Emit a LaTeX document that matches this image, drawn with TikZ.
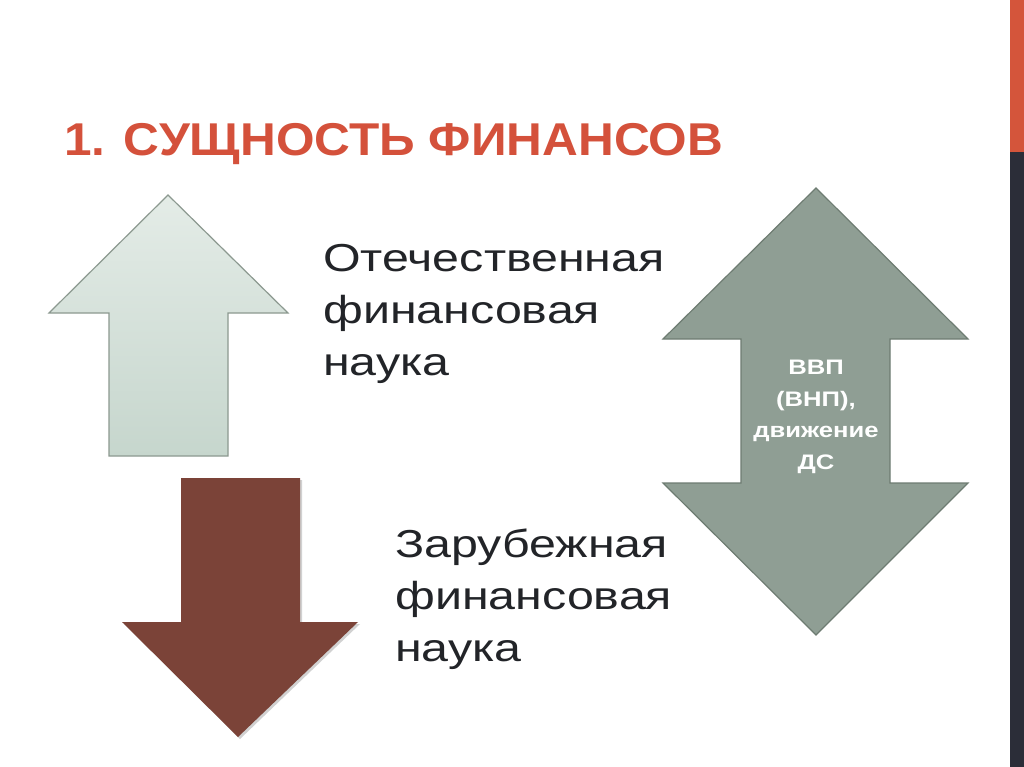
\documentclass[tikz,border=0pt]{standalone}
\usepackage{fontspec}
\setmainfont{Liberation Sans}
\newfontfamily\bodyfont[FakeStretch=1.24]{Liberation Sans}
\newfontfamily\gdpfont[FakeStretch=1.22]{Liberation Sans}
\newfontfamily\titlefont[FakeStretch=1.077]{Liberation Sans}
\definecolor{titlered}{HTML}{D4513B}
\definecolor{barorange}{HTML}{D4553B}
\definecolor{bardark}{HTML}{2B2D38}
\definecolor{txt}{HTML}{222428}
\definecolor{uptop}{HTML}{E4ECE7}
\definecolor{upbot}{HTML}{C6D6CD}
\definecolor{upedge}{HTML}{8C9990}
\definecolor{downfill}{HTML}{7B4338}
\definecolor{dblfill}{HTML}{8F9E94}
\definecolor{dbledge}{HTML}{6E7C72}
\tikzset{
  bodytext/.style={anchor=north west, inner sep=0pt, align=left, text=txt,
    font=\bodyfont\fontsize{39}{52}\selectfont},
  arrowtext/.style={anchor=north, inner sep=0pt, align=center, text=white,
    font=\gdpfont\bfseries\fontsize{21}{31.5}\selectfont},
}
\begin{document}
\begin{tikzpicture}[x=1pt,y=-1pt]
\useasboundingbox (0,0) rectangle (1024,767);
\fill[white] (0,0) rectangle (1024,767);
% right edge bars
\fill[barorange] (1010,0) rectangle (1024,152);
\fill[bardark] (1010,152) rectangle (1024,767);
% title
\node[anchor=base west, inner sep=0pt, text=titlered,
  font=\titlefont\bfseries\fontsize{46}{50}\selectfont] (title) at (64,156) {1. СУЩНОСТЬ ФИНАНСОВ};
% up arrow
\draw[upedge, line width=1.2pt, top color=uptop, bottom color=upbot, line join=miter]
  (168,195) -- (288,313) -- (228,313) -- (228,456) -- (109,456) -- (109,313) -- (49,313) -- cycle;
% down arrow (shadow then body)
\fill[black, opacity=0.18] (183,480) -- (302,480) -- (302,624) -- (360,624) -- (240,739) -- (124,624) -- (183,624) -- cycle;
\fill[downfill] (181,478) -- (300,478) -- (300,622) -- (358,622) -- (238,737) -- (122,622) -- (181,622) -- cycle;
% double arrow
\draw[dbledge, line width=1.2pt, fill=dblfill, line join=miter]
  (816,188) -- (968,339) -- (890,339) -- (890,483) -- (968,483) -- (816,635)
  -- (663,483) -- (741,483) -- (741,339) -- (663,339) -- cycle;
\node[arrowtext] (gdp) at (816,360) {ВВП\\(ВНП),\\движение\\ДС};
% body texts
\node[bodytext] (domestic) at (323,244) {Отечественная\\финансовая\\наука};
\node[bodytext] (foreign) at (395,529) {Зарубежная\\финансовая\\наука};
\end{tikzpicture}
\end{document}
